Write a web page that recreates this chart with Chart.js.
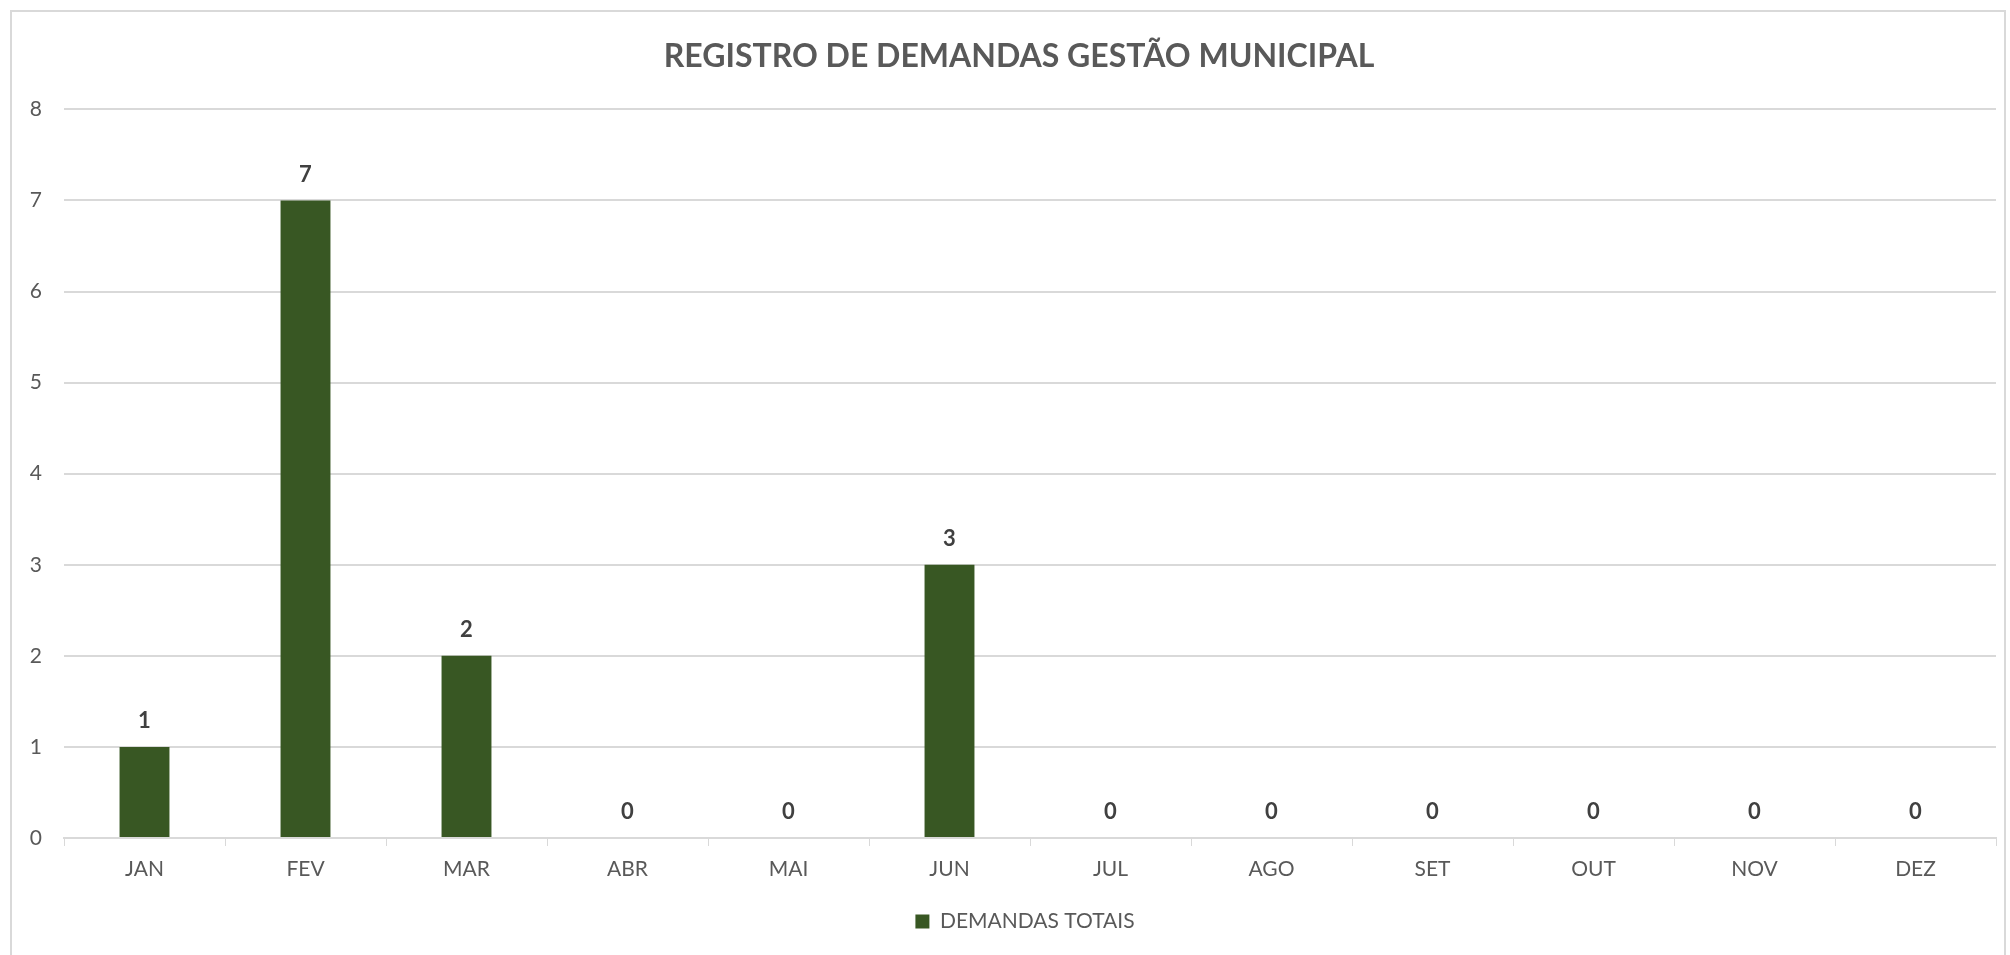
<!DOCTYPE html>
<html>
<head>
<meta charset="utf-8">
<script src="https://cdn.jsdelivr.net/npm/chart.js@4"></script>
<style>
  html, body { margin: 0; padding: 0; background: #fff; overflow: hidden; }
  #wrap { position: relative; width: 2010px; height: 955px; }
  #frame { position: absolute; left: 10px; top: 10px; width: 1996px; height: 960px; border: 2px solid #d9d9d9; box-sizing: border-box; pointer-events: none; }
  canvas { position: absolute; left: 0; top: 0; }
</style>
</head>
<body>
<div id="wrap">
  <canvas id="chart" width="2010" height="955"></canvas>
  <div id="frame"></div>
</div>
<script>
const months = ['JAN', 'FEV', 'MAR', 'ABR', 'MAI', 'JUN', 'JUL', 'AGO', 'SET', 'OUT', 'NOV', 'DEZ'];
const demandas = [1, 7, 2, 0, 0, 3, 0, 0, 0, 0, 0, 0];
const yTicks = [0, 1, 2, 3, 4, 5, 6, 7, 8];
const seriesName = 'DEMANDAS TOTAIS';
const chartTitle = 'REGISTRO DE DEMANDAS GESTÃO MUNICIPAL';

const fontFamily = 'Lato, "Open Sans", sans-serif';
const green = '#385723';
const grey = '#d9d9d9';

// value labels above each bar
const barLabels = {
  id: 'barLabels',
  afterDatasetsDraw(chart) {
    const ctx = chart.ctx;
    const meta = chart.getDatasetMeta(0);
    ctx.save();
    ctx.font = 'bold 22px ' + fontFamily;
    ctx.fillStyle = '#404040';
    ctx.textAlign = 'center';
    ctx.textBaseline = 'middle';
    meta.data.forEach(function (bar, i) {
      ctx.fillText(String(demandas[i]), bar.x, bar.y - 26);
    });
    ctx.restore();
  }
};

// title and legend sit centred a little right of the canvas centre
const nudgeBoxes = {
  id: 'nudgeBoxes',
  afterLayout(chart) {
    if (chart.titleBlock) chart.titleBlock.left += 42;
    if (chart.legend) chart.legend.left += 54;
  }
};

const ctx = document.getElementById('chart').getContext('2d');
new Chart(ctx, {
  type: 'bar',
  data: {
    labels: months,
    datasets: [{
      label: seriesName,
      data: demandas,
      backgroundColor: green,
      borderWidth: 0,
      barPercentage: 0.31,
      categoryPercentage: 1
    }]
  },
  options: {
    responsive: false,
    animation: false,
    layout: { padding: { left: 0, right: 14, top: 0, bottom: 13 } },
    plugins: {
      title: {
        display: true,
        text: chartTitle,
        color: '#595959',
        font: { family: fontFamily, size: 32, weight: 'bold' },
        padding: { top: 37, bottom: 34 }
      },
      legend: {
        position: 'bottom',
        labels: {
          color: '#595959',
          font: { family: fontFamily, size: 21 },
          boxWidth: 14,
          boxHeight: 14,
          padding: 10
        }
      },
      tooltip: { enabled: false }
    },
    scales: {
      x: {
        grid: { display: true, drawOnChartArea: false, drawTicks: true, tickLength: 8, color: grey, offset: true },
        border: { display: true, color: grey, width: 2 },
        ticks: { color: '#595959', font: { family: fontFamily, size: 21 }, padding: 11 },
        afterFit: function (scale) { scale.height = 63; }
      },
      y: {
        min: 0,
        max: 8,
        afterBuildTicks: function (scale) { scale.ticks = yTicks.map(v => ({ value: v })); },
        grid: { color: grey, lineWidth: 2, drawTicks: false },
        border: { display: false },
        ticks: { color: '#595959', font: { family: fontFamily, size: 21 }, padding: 22 },
        afterFit: function (scale) { scale.width = 64; }
      }
    }
  },
  plugins: [barLabels, nudgeBoxes]
});
</script>
</body>
</html>
